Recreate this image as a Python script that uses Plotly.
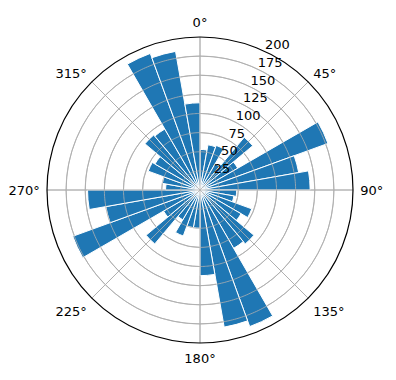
import numpy as np
import plotly.graph_objects as go

# Bin start angles (degrees, clockwise from north), each bin 10 degrees wide
bin_starts = [0, 10, 20, 30, 40, 50, 60, 70, 80,
              90, 100, 110, 120, 130, 140, 150, 160, 170,
              180, 190, 200, 210, 220, 230, 240, 250, 260,
              270, 280, 290, 300, 310, 320, 330, 340, 350]
counts = [53, 60, 62, 40, 90, 57, 178, 131, 144,
          48, 45, 72, 62, 92, 88, 190, 182, 112,
          50, 50, 64, 45, 92, 55, 177, 125, 147,
          45, 50, 72, 68, 94, 92, 190, 184, 114]
bin_width = 10

angle_ticks = [0, 45, 90, 135, 180, 225, 270, 315]
angle_labels = ["0°", "45°", "90°", "135°", "180°", "225°", "270°", "315°"]
radial_ticks = [25, 50, 75, 100, 125, 150, 175, 200]
radial_max = 200

FONT = "DejaVu Sans"
GRID = "#b0b0b0"

centers = [b + bin_width / 2 for b in bin_starts]

fig = go.Figure()
fig.add_trace(go.Barpolar(
    r=counts, theta=centers, width=[bin_width] * len(counts),
    marker=dict(color="#1f77b4", line=dict(color="white", width=1)),
    hoverinfo="skip",
))

# grid drawn above the bars (as matplotlib does)
circ = np.linspace(0, 360, 361)
for rv in radial_ticks[:-1]:
    fig.add_trace(go.Scatterpolar(r=[rv] * len(circ), theta=circ, mode="lines",
                                  line=dict(color=GRID, width=0.8), hoverinfo="skip"))
for a in angle_ticks:
    fig.add_trace(go.Scatterpolar(r=[0, radial_max], theta=[a, a], mode="lines",
                                  line=dict(color=GRID, width=0.8), hoverinfo="skip"))

W, H = 396, 380
cx, cy, R = 200, 190, 153
fig.update_layout(
    width=W, height=H,
    margin=dict(l=0, r=0, t=0, b=0),
    paper_bgcolor="white",
    showlegend=False,
    font=dict(family=FONT, size=13, color="black"),
    polar=dict(
        domain=dict(x=[(cx - R) / W, (cx + R) / W], y=[(H - cy - R) / H, (H - cy + R) / H]),
        bgcolor="white",
        bargap=0,
        angularaxis=dict(
            rotation=90, direction="clockwise",
            tickmode="array", tickvals=angle_ticks, ticktext=angle_labels,
            showline=True, linecolor="black", linewidth=1.2,
            showgrid=True, gridcolor=GRID, gridwidth=0.8,
            ticks="outside", ticklen=4, tickcolor="rgba(0,0,0,0)",
            tickfont=dict(family=FONT, size=13, color="black"),
        ),
        radialaxis=dict(
            range=[0, radial_max], tickmode="array", tickvals=radial_ticks,
            ticktext=[f"{v}<br> " for v in radial_ticks],
            angle=67.5, tickangle=67.5, side="clockwise",
            showline=False, ticks="",
            showgrid=True, gridcolor=GRID, gridwidth=0.8,
            tickfont=dict(family=FONT, size=13, color="black"),
        ),
    ),
)

fig.write_html("out.html")
